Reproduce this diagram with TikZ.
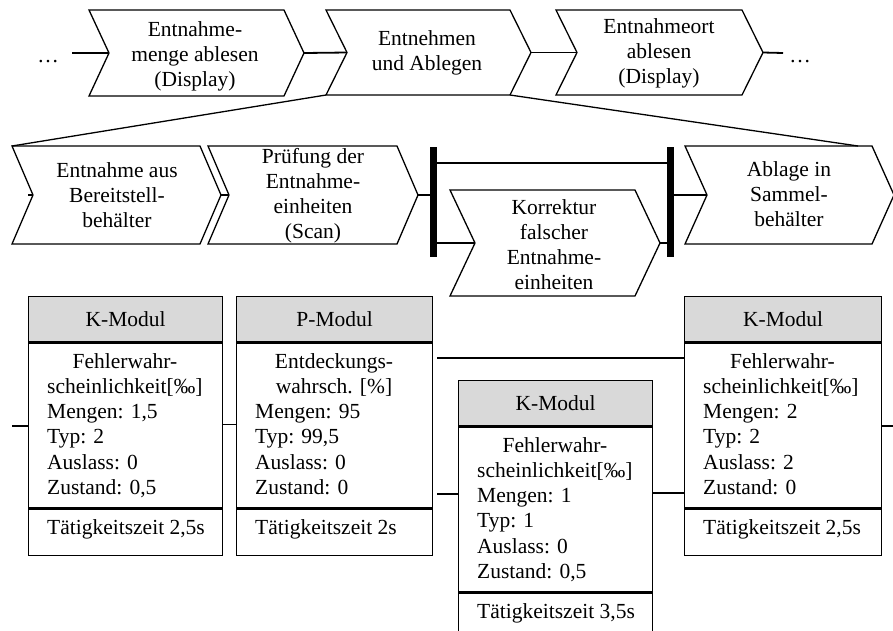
\documentclass[tikz,border=0pt]{standalone}
\usepackage{fontspec}
\setmainfont{Liberation Serif}
\definecolor{hdrgray}{RGB}{217,217,217}
% chevron: name, x1, x2, ytop, ybot, depth, text x, text y, text
\newcommand\mychev[9]{%
  \draw[shp] (#2,#4) -- (#3,#4) -- ({#3+#6},{(#4+#5)/2}) -- (#3,#5) -- (#2,#5) -- ({#2+#6},{(#4+#5)/2}) -- cycle;
  \coordinate (#1-in) at ({#2+#6},{(#4+#5)/2});
  \coordinate (#1-out) at ({#3+#6},{(#4+#5)/2});
  \coordinate (#1-tl) at (#2,#4);
  \coordinate (#1-bl) at (#2,#5);
  \coordinate (#1-br) at (#3,#5);
  \node[lbl] (#1) at (#7,#8) {#9};
}
% module: name, left, top, width, header, centred lines, number of centred lines, left lines, footer
\newcommand\mymod[9]{%
  \node[modh, minimum width=#4pt, anchor=north west] (#1-h) at (#2,#3) {#5};
  \node[modb, minimum width=#4pt, anchor=north] (#1-b) at (#1-h.south) {};
  \node[modf, minimum width=#4pt, anchor=north] (#1-f) at (#1-b.south) {};
  \node[lbl, anchor=west] (#1-t) at ({#2+19},{#3+45+165+23}) {#9};
  \foreach \t [count=\i] in {#6}
    \node[lbl, anchor=base] (#1-c\i) at ({#2+#4/2},{#3+45+27+25.3*(\i-1)}) {\t};
  \foreach \t [count=\i from #7] in {#8}
    \node[lbl, anchor=base west] (#1-l\i) at ({#2+19},{#3+45+27+25.3*\i}) {\t};
}
\begin{document}
\begin{tikzpicture}[x=1pt,y=-1pt,
  shp/.style={draw, line width=1.3pt, fill=white, line join=miter},
  lbl/.style={font=\fontsize{21.5}{25}\selectfont, align=center, inner sep=0pt},
  con/.style={line width=1.8pt},
  thincon/.style={line width=1pt},
  diag/.style={line width=1.3pt},
  barline/.style={line width=7pt},
  modh/.style={draw, line width=1.3pt, fill=hdrgray, minimum height=45pt, inner sep=0pt,
    font=\fontsize{21.5}{25}\selectfont},
  modb/.style={draw, line width=1.3pt, fill=white, minimum height=165pt, inner sep=0pt},
  modf/.style={draw, line width=1.3pt, fill=white, minimum height=46pt, inner sep=0pt}]
\useasboundingbox (0,0) rectangle (893,630);
\begin{scope}
\clip (0,0) rectangle (893,630);

% ---------- top row ----------
\mychev{c1}{89}{284}{10}{96}{20}{195}{56}{Entnahme-\\menge ablesen\\(Display)}
\mychev{c2}{326}{510}{10}{95}{21}{427}{53}{Entnehmen\\und Ablegen}
\mychev{c3}{556}{742}{10}{95}{21}{659}{53}{Entnahmeort\\ablesen\\(Display)}
\node[lbl, anchor=base] (dl) at (48,62) {…};
\node[lbl, anchor=base] (dr) at (800,62) {…};
\coordinate (l0) at (72,53);
\coordinate (r0) at (783,53);
\draw[con] (l0) -- (c1-in);
\draw[con] (c1-out) -- (c2-in);
\draw[con] (c2-out) -- (c3-in);
\draw[con] (c3-out) -- (r0);

% ---------- second row ----------
\mychev{a}{12}{200}{146}{244}{21}{117}{195}{Entnahme aus\\Bereitstell-\\behälter}
\mychev{b}{208}{397}{146}{244}{21}{313}{196}{Prüfung der\\Entnahme-\\einheiten\\(Scan)}
\mychev{k}{450}{635}{190}{296}{25}{554}{245}{Korrektur\\falscher\\Entnahme-\\einheiten}
\mychev{s}{685}{872}{146}{244}{22}{789}{194}{Ablage in\\Sammel-\\behälter}
\coordinate (sTop) at (858,146);
\draw[diag] (c2-bl) -- (a-tl);
\draw[diag] (c2-br) -- (sTop);

\coordinate (bar1t) at (433,147);
\coordinate (bar1b) at (433,257);
\coordinate (bar2t) at (670,147);
\coordinate (bar2b) at (670,257);
\draw[barline] (bar1t) -- (bar1b);
\draw[barline] (bar2t) -- (bar2b);
\coordinate (a0) at (28,195);
\draw[con] (a0) -- (a-in);
\draw[con] (a-out) -- (b-in);
\draw[con] (b-out) -- (b-out -| bar1t);
\draw[con] (433,163) -- (670,163);
\draw[con] (k-in -| bar1t) -- (k-in);
\draw[con] (k-out) -- (k-out -| bar2t);
\draw[con] (s-in -| bar2t) -- (s-in);

% ---------- modules ----------
\mymod{m1}{28}{296}{194}{K-Modul}{Fehlerwahr-}{1}{{scheinlichkeit[‰]},{Mengen: 1,5},{Typ: 2},{Auslass: 0},{Zustand: 0,5}}{Tätigkeitszeit 2,5s}
\mymod{m2}{236}{296}{196}{P-Modul}{{Entdeckungs-},{wahrsch. [\%]}}{2}{{Mengen: 95},{Typ: 99,5},{Auslass: 0},{Zustand: 0}}{Tätigkeitszeit 2s}
\mymod{m3}{458}{380}{194}{K-Modul}{Fehlerwahr-}{1}{{scheinlichkeit[‰]},{Mengen: 1},{Typ: 1},{Auslass: 0},{Zustand: 0,5}}{Tätigkeitszeit 3,5s}
\mymod{m4}{684}{296}{197}{K-Modul}{Fehlerwahr-}{1}{{scheinlichkeit[‰]},{Mengen: 2},{Typ: 2},{Auslass: 2},{Zustand: 0}}{Tätigkeitszeit 2,5s}

\coordinate (m0) at (12,426);
\coordinate (m5) at (893,426);
\coordinate (p1) at (437,358);
\coordinate (p2) at (437,494);
\draw[con] (m0) -- (m0 -| m1-b.west);
\draw[thincon] (m1-b.east |- 0,424) -- (m2-b.west |- 0,424);
\draw[con] (p1) -- (p1 -| m4-b.west);
\draw[con] (p2) -- (p2 -| m3-b.west);
\draw[con] (m3-b.east |- 0,493) -- (m4-b.west |- 0,493);
\draw[con] (m4-b.east |- m5) -- (m5);
\end{scope}
\end{tikzpicture}
\end{document}
